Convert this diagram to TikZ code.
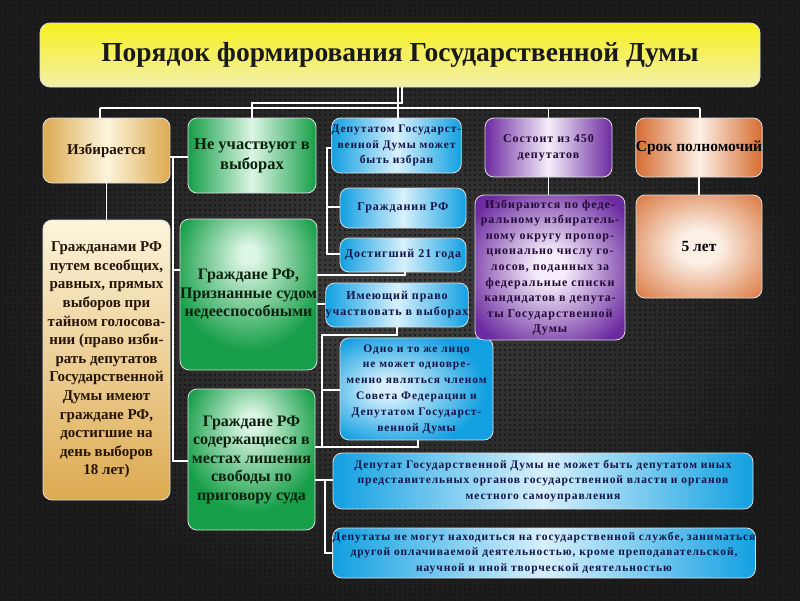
\documentclass[tikz,border=0pt]{standalone}
\usepackage{fontspec}
\setmainfont{Liberation Serif}
\newfontfamily\spacedfont[LetterSpace=8]{Liberation Serif}
\usetikzlibrary{patterns.meta}
\definecolor{bgin}{RGB}{64,64,64}
\definecolor{bgout}{RGB}{28,28,28}
\definecolor{dotc}{RGB}{20,20,20}
\definecolor{cyanA}{RGB}{18,160,225}
\definecolor{cyanL}{RGB}{215,240,252}
\definecolor{greenA}{RGB}{22,158,72}
\definecolor{greenL}{RGB}{220,246,228}
\definecolor{goldA}{RGB}{220,170,80}
\definecolor{goldL}{RGB}{252,244,220}
\definecolor{purA}{RGB}{108,42,160}
\definecolor{purL}{RGB}{245,238,250}
\definecolor{orA}{RGB}{214,108,48}
\definecolor{orL}{RGB}{252,240,230}
\definecolor{yelA}{RGB}{246,240,30}
\definecolor{yelB}{RGB}{244,240,170}
\definecolor{navy}{RGB}{18,20,72}
\definecolor{dkgreen}{RGB}{8,34,14}
\definecolor{dkbrown}{RGB}{38,20,6}
\definecolor{dkpur}{RGB}{36,10,56}
\pgfdeclareradialshading{softgreen}{\pgfpoint{0bp}{14bp}}{color(0bp)=(greenL); color(3bp)=(greenL); color(28bp)=(greenA); color(80bp)=(greenA)}
\pgfdeclareradialshading{softpur}{\pgfpoint{0bp}{0bp}}{color(0bp)=(purL); color(5bp)=(purL); color(31bp)=(purA); color(80bp)=(purA)}
\pgfdeclareradialshading{softor}{\pgfpoint{0bp}{0bp}}{color(0bp)=(orL); color(8bp)=(orL); color(38bp)=(orA); color(80bp)=(orA)}
\pgfdeclareradialshading{softcyan}{\pgfpoint{0bp}{10bp}}{color(0bp)=(cyanL); color(4bp)=(cyanL); color(29bp)=(cyanA); color(80bp)=(cyanA)}
\tikzset{
  box/.style={draw=white!88!black, line width=0.8pt, rounded corners=9pt, inner sep=0pt, align=center},
  bluebox/.style={box, left color=cyanA, right color=cyanA, middle color=cyanL, text=navy,
     font=\spacedfont\bfseries\fontsize{11.5}{15.8}\selectfont},
  greenbox/.style={box, text=dkgreen, font=\bfseries\fontsize{16}{18.5}\selectfont},
  goldbox/.style={box, text=dkbrown, font=\bfseries\fontsize{15}{18.6}\selectfont},
  purbox/.style={box, text=dkpur, font=\spacedfont\bfseries\fontsize{12}{15.6}\selectfont},
  orbox/.style={box, text=black, font=\bfseries\fontsize{15.5}{18}\selectfont},
  conn/.style={draw=white, line width=1.8pt}
}
\begin{document}
\begin{tikzpicture}[x=1pt,y=-1pt]
\useasboundingbox (0,0) rectangle (800,600);
\shade[inner color=bgin, outer color=bgout] (0,0) rectangle (800,600);
\fill[pattern={Dots[distance=5pt,radius=1.1pt]}, pattern color=dotc] (0,0) rectangle (800,600);

% title
\node[box, rounded corners=10pt, minimum width=720pt, minimum height=64pt,
  top color=yelA, bottom color=yelB, text=black!90,
  font=\bfseries\fontsize{27.5}{30}\selectfont] (title) at (400,55)
  {Порядок формирования Государственной Думы};

% top row
\node[goldbox, minimum width=127pt, minimum height=65pt,
  left color=goldA, right color=goldA, middle color=goldL] (izb) at (106.5,150.5) {Избирается};
\node[greenbox, minimum width=128pt, minimum height=75pt, font=\bfseries\fontsize{16.5}{20}\selectfont,
  left color=greenA, right color=greenA, middle color=greenL] (neuch) at (252,155.5)
  {Не участвуют в\\выборах};
\node[bluebox, minimum width=127pt, minimum height=55pt] (deput) at (396.5,145.5)
  {Депутатом Государст-\\венной Думы может\\быть избран};
\node[purbox, minimum width=127pt, minimum height=59pt, font=\spacedfont\bfseries\fontsize{12}{16}\selectfont,
  left color=purA, right color=purA, middle color=purL] (sost) at (548.5,147.5)
  {Состоит из 450\\депутатов};
\node[orbox, minimum width=126pt, minimum height=59pt,
  left color=orA, right color=orA, middle color=orL] (srok) at (699,147.5)
  {Срок полномочий};

% second row
\node[goldbox, minimum width=127pt, minimum height=280pt,
  top color=goldL, bottom color=goldA] (grazhd) at (106.5,360)
  {Гражданами РФ\\путем всеобщих,\\равных, прямых\\выборов при\\тайном голосова-\\нии (право изби-\\рать депутатов\\Государственной\\Думы имеют\\граждане РФ,\\достигшие на\\день выборов\\18 лет)};
\node[greenbox, minimum width=133pt, minimum height=151pt, shade, shading=softgreen] (nedeesp) at (248.5,294.5)
  {Граждане РФ,\\Признанные судом\\недееспособными};
\node[greenbox, minimum width=127pt, minimum height=141pt, shade, shading=softgreen] (lishen) at (251.5,459.5)
  {Граждане РФ\\содержащиеся в\\местах лишения\\свободы по\\приговору суда};

\node[bluebox, minimum width=126pt, minimum height=40pt, font=\spacedfont\bfseries\fontsize{12}{16}\selectfont] (grazhdanin) at (403,208) {Гражданин РФ};
\node[bluebox, minimum width=126pt, minimum height=34pt, font=\spacedfont\bfseries\fontsize{12}{16}\selectfont] (dost) at (403,255) {Достигший 21 года};
\node[bluebox, minimum width=138pt, minimum height=44pt, font=\spacedfont\bfseries\fontsize{12}{16}\selectfont] (imeyu) at (397,305)
  {Имеющий право\\участвовать в выборах};
\node[bluebox, minimum width=153pt, minimum height=102pt, shade, shading=softcyan] (odno) at (416.5,389)
  {Одно и то же лицо\\не может одновре-\\менно являться членом\\Совета Федерации и\\Депутатом Государст-\\венной Думы};

\node[purbox, minimum width=150pt, minimum height=145pt, shade, shading=softpur] (izbir) at (550,267.5)
  {Избираются по феде-\\ральному избиратель-\\ному округу пропор-\\ционально числу го-\\лосов, поданных за\\федеральные списки\\кандидатов в депута-\\ты Государственной\\Думы};
\node[orbox, minimum width=126pt, minimum height=103pt, shade, shading=softor] (fiveyr) at (699,246.5) {5 лет};

\node[bluebox, minimum width=420pt, minimum height=56pt] (depne) at (543,481)
  {Депутат Государственной Думы не может быть депутатом иных\\представительных органов государственной власти и органов\\местного самоуправления};
\node[bluebox, minimum width=422pt, minimum height=50pt] (depnm) at (544,553)
  {Депутаты не могут находиться на государственной службе, заниматься\\другой оплачиваемой деятельностью, кроме преподавательской,\\научной и иной творческой деятельностью};

% connectors from title
\coordinate (t1) at (398,108);
\coordinate (t2) at (402,103);
\coordinate (jL) at (100,108);
\coordinate (jR) at (700,108);
\draw[conn] (title.south -| t1) -- (t1);
\draw[conn] (title.south -| t2) -- (t2) -- (t2 -| neuch.north) -- (neuch.north);
\draw[conn] (jL) -- (jR);
\draw[conn] (jL) -- (jL |- izb.north);
\draw[conn] (t1) -- (t1 |- deput.north);
\draw[conn] (jL -| sost.north) -- (sost.north);
\draw[conn] (jR) -- (jR |- srok.north);

% left tree
\draw[conn] (izb.south) -- (grazhd.north);
\coordinate (lb1) at (173,157);
\coordinate (lb2) at (173,461);
\coordinate (lb3) at (173,270);
\draw[conn] (izb.east |- lb1) -- (neuch.west |- lb1);
\draw[conn] (lb1) -- (lb2) -- (lb2 -| lishen.west);
\draw[conn] (lb3) -- (lb3 -| nedeesp.west);

% deputy column
\coordinate (db1) at (327,148);
\coordinate (db2) at (327,254);
\coordinate (db3) at (327,207);
\draw[conn] (db1 -| deput.west) -- (db1) -- (db2) -- (db2 -| dost.west);
\draw[conn] (db3) -- (db3 -| grazhdanin.west);

% from green boxes
\coordinate (nd) at (405,275);
\draw[conn] (nd -| nedeesp.east) -- (nd) -- (nd |- dost.south);
\coordinate (ni) at (321,304);
\draw[conn] (ni -| nedeesp.east) -- (ni -| imeyu.west);
\coordinate (lp1) at (397,335);
\coordinate (lp2) at (322,335);
\coordinate (lp3) at (322,447);
\coordinate (lp4) at (418,447);
\coordinate (lp5) at (322,390);
\draw[conn] (imeyu.south) -- (lp1) -- (lp2) -- (lp3) -- (lp4) -- (lp4 |- odno.south);
\draw[conn] (lishen.east |- lp3) -- (lp3);
\draw[conn] (lp5) -- (lp5 -| odno.west);
\coordinate (bb1) at (325,480);
\coordinate (bb2) at (325,553);
\draw[conn] (lishen.east |- bb1) -- (bb1 -| depne.west);
\draw[conn] (bb1) -- (bb2) -- (bb2 -| depnm.west);

% right columns
\draw[conn] (sost.south) -- (sost.south |- izbir.north);
\draw[conn] (srok.south) -- (fiveyr.north);
\end{tikzpicture}
\end{document}
